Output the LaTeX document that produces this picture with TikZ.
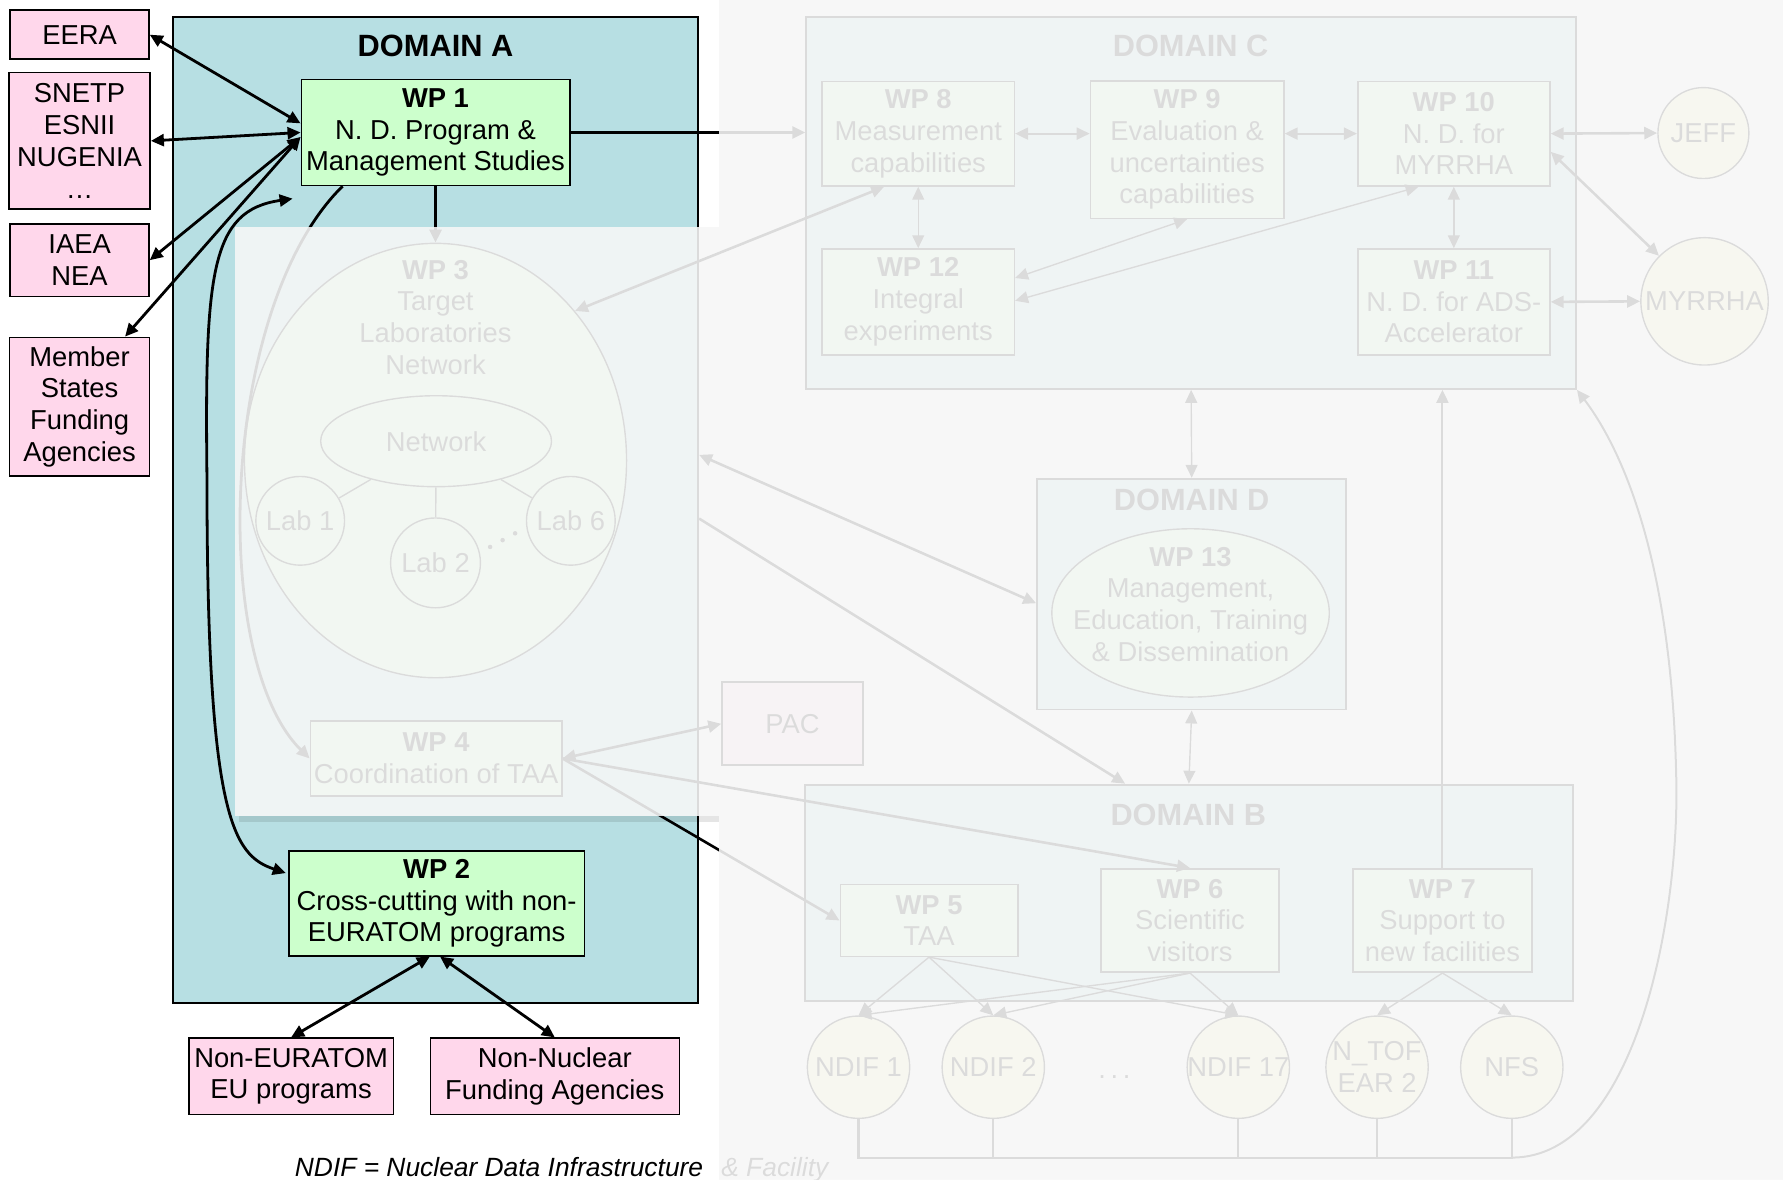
\documentclass[tikz,border=0pt]{standalone}
\usepackage{fontspec}
\setmainfont{Liberation Sans}
\usepackage{tikz}
\usetikzlibrary{positioning,arrows.meta,shapes.geometric,calc}
\definecolor{domainteal}{RGB}{183,223,227}
\definecolor{wpgreen}{RGB}{204,255,204}
\definecolor{partnerpink}{RGB}{255,215,235}
\definecolor{facilityyellow}{RGB}{255,255,190}
\definecolor{veilgray}{RGB}{247,247,247}

\begin{document}
\begin{tikzpicture}[
  x=0.2mm, y=-0.2mm,
  font=\fontsize{13.7}{15.9}\selectfont,
  domainbox/.style={draw, line width=0.9pt, fill=domainteal},
  domaintitle/.style={font=\fontsize{15.4}{18}\selectfont\bfseries},
  wpbox/.style={draw, line width=0.8pt, fill=wpgreen, align=center, inner sep=1pt},
  wpring/.style={ellipse, draw, line width=0.7pt, fill=wpgreen, inner sep=0pt},
  partnerbox/.style={draw, line width=0.8pt, fill=partnerpink, align=center, inner sep=1pt},
  facility/.style={circle, draw, line width=0.7pt, fill=facilityyellow, inner sep=0pt, minimum size=18mm},
  flow/.style={-{Triangle[length=6.5pt,width=6pt]}, line width=1.4pt},
  twoway/.style={{Triangle[length=6.5pt,width=6pt]}-{Triangle[length=6.5pt,width=6pt]}, line width=1.4pt},
  link/.style={-{Triangle[length=6.5pt,width=6pt]}, line width=1.3pt},
  twolink/.style={{Triangle[length=6.5pt,width=6pt]}-{Triangle[length=6.5pt,width=6pt]}, line width=1.3pt},
  fine/.style={line width=0.7pt},
  veil/.style={fill=veilgray, fill opacity=0.89, draw=none}
]
\fill[white] (0,0) rectangle (1568,1037);
\useasboundingbox (0,0) rectangle (1568,1037);

\node[domainbox, minimum width=92.4mm, minimum height=173.4mm] (doma) at (383,448.5) {};
\node[domainbox, minimum width=135.4mm, minimum height=65.4mm] (domc) at (1047.5,178.5) {};
\node[domainbox, minimum width=54.4mm, minimum height=40.6mm] (domd) at (1048,522.5) {};
\node[domainbox, minimum width=135mm, minimum height=38mm] (domb) at (1045.5,785) {};
\node[domaintitle] (titlea) at (383,40) {DOMAIN A};
\node[domaintitle] (titlec) at (1047,40) {DOMAIN C};
\node[domaintitle] (titled) at (1048,440) {DOMAIN D};
\node[domaintitle] (titleb) at (1045,717) {DOMAIN B};

\node[partnerbox, minimum width=24.4mm, minimum height=8.6mm] (eera) at (70,30.5) {EERA};
\node[partnerbox, minimum width=24.8mm, minimum height=24mm, below=2.1mm of eera] (snetp) {SNETP\\ESNII\\NUGENIA\\\dots};
\node[partnerbox, minimum width=24.4mm, minimum height=12.8mm, below=2.3mm of snetp] (iaea) {IAEA\\NEA};
\node[partnerbox, minimum width=24.6mm, minimum height=24.4mm, below=6.9mm of iaea] (member) {Member\\States\\Funding\\Agencies};

\node[wpbox, minimum width=47.2mm, minimum height=18.6mm] (wp1) at (383,116.5) {\textbf{WP 1}\\N. D. Program \&\\Management Studies};
\node[wpring, minimum width=67.2mm, minimum height=76.4mm] (wp3) at (383,405) {};
\node[align=center] (wp3text) at (383,279) {\textbf{WP 3}\\Target\\Laboratories\\Network};
\node[wpring, minimum width=40.6mm, minimum height=16mm] (net) at (383.5,388) {Network};
\node[wpring, minimum width=15.6mm, minimum height=15.6mm, label={center:Lab 1}] (lab1) at (264,458) {};
\node[wpring, minimum width=15.8mm, minimum height=15.8mm, label={center:Lab 2}] (lab2) at (383,495) {};
\node[wpring, minimum width=15.6mm, minimum height=15.6mm, label={center:Lab 6}] (lab6) at (502,458) {};
\node[wpbox, minimum width=44.2mm, minimum height=13.2mm] (wp4) at (383.5,667) {\textbf{WP 4}\\Coordination of TAA};
\node[wpbox, minimum width=52mm, minimum height=18.4mm] (wp2) at (384,794.5) {\textbf{WP 2}\\Cross-cutting with non-\\EURATOM programs};
\node[partnerbox, minimum width=36mm, minimum height=13.4mm] (noneuratom) at (256,946.5) {Non-EURATOM\\EU programs};
\node[partnerbox, minimum width=43.8mm, minimum height=13.4mm, right=6.2mm of noneuratom] (nonnuclear) {Non-Nuclear\\Funding Agencies};
\node[partnerbox, minimum width=24.8mm, minimum height=14.6mm] (pac) at (697,636.5) {PAC};

\node[wpbox, minimum width=33.8mm, minimum height=18.4mm] (wp8) at (807.5,117.5) {\textbf{WP 8}\\Measurement\\capabilities};
\node[wpbox, minimum width=34mm, minimum height=24.2mm] (wp9) at (1044,131.5) {\textbf{WP 9}\\Evaluation \&\\uncertainties\\capabilities};
\node[wpbox, minimum width=33.8mm, minimum height=18.4mm] (wp10) at (1278.5,117.5) {\textbf{WP 10}\\N. D. for\\MYRRHA};
\node[wpbox, minimum width=33.8mm, minimum height=18.6mm] (wp12) at (807.5,265.5) {\textbf{WP 12}\\Integral\\experiments};
\node[wpbox, minimum width=33.8mm, minimum height=18.6mm] (wp11) at (1278.5,265.5) {\textbf{WP 11}\\N. D. for ADS-\\Accelerator};
\node[facility, minimum size=16mm, label={center:JEFF}] (jeff) at (1498,117) {};
\node[facility, minimum size=22.4mm, label={center:MYRRHA}] (myrrha) at (1499,265) {};

\node[wpring, minimum width=48.8mm, minimum height=29.6mm] (wp13) at (1047,539) {};
\node[align=center] (wp13text) at (1047,531.5) {\textbf{WP 13}\\Management,\\Education, Training\\\& Dissemination};

\node[wpbox, minimum width=31.2mm, minimum height=12.6mm] (wp5) at (817,809.5) {\textbf{WP 5}\\TAA};
\node[wpbox, minimum width=31.4mm, minimum height=18.2mm] (wp6) at (1046.5,809.5) {\textbf{WP 6}\\Scientific\\visitors};
\node[wpbox, minimum width=31.4mm, minimum height=18.2mm] (wp7) at (1268.5,809.5) {\textbf{WP 7}\\Support to\\new facilities};
\node[facility, label={center:NDIF 1}] (ndif1) at (755,938.5) {};
\node[facility, label={center:NDIF 2}] (ndif2) at (873.5,938.5) {};
\node (ndifdots) at (980,947) {.\,.\,.};
\node[facility, label={center:NDIF 17}] (ndif17) at (1089,938.5) {};
\node[facility, label={[align=center]center:N\_TOF\\EAR 2}] (ntof) at (1211,938.5) {};
\node[facility, label={center:NFS}] (nfs) at (1329.5,938.5) {};
\node[anchor=base west, inner sep=0pt, font=\fontsize{13.2}{15.9}\selectfont\itshape] (footnote) at (259,1035) {NDIF = Nuclear Data Infrastructure\hspace{3.2mm}\& Facility};

\draw[fine] (net) -- (lab1);
\draw[fine] (net) -- (lab2);
\draw[fine] (net) -- (lab6);
\fill (431,481) circle[radius=2];
\fill (442,475) circle[radius=2];
\fill (453,469) circle[radius=2];

\draw[twoway] (eera.east) -- ($(wp1.west)+(0,-8)$);
\draw[twoway] (snetp.east) -- (wp1.west);
\draw[twoway] (iaea.east) -- ($(wp1.west)+(0,4)$);
\draw[twoway] ($(member.north)+(40,0)$) -- ($(wp1.west)+(0,4)$);
\draw[flow] (wp1.south) -- (wp3.north);
\draw[flow] ($(wp1.south west)+(37,0)$) .. controls (193,270) and (184,580) .. (wp4.west);
\draw[twoway] ($(wp1.south west)+(-7,11)$) .. controls (185,185) and (180,240) .. (182,420) .. controls (182,720) and (205,752) .. ($(wp2.north west)+(-2,20)$);
\draw[twoway] ($(wp2.south)+(-6,0)$) -- (noneuratom.north);
\draw[twoway] ($(wp2.south)+(3,0)$) -- (nonnuclear.north);
\draw[flow] (wp1.east) -- (domc.west |- wp1.east);

\draw[twolink] (wp3.47) -- ($(wp8.south)+(-30,0)$);
\draw[twolink] ($(doma.east)+(0,-48.5)$) -- ($(domd.west)+(0,8)$);
\draw[link] ($(doma.east)+(0,7.5)$) -- ($(domb.north)+(-56,0)$);
\draw[twolink] (wp4.east) -- (pac.west);
\draw[link] (wp4.east) -- (wp6.north);
\draw[link] (wp4.east) -- (wp5.west);

\draw[twolink, line width=1pt] (wp8.east) -- ($(wp9.west)+(0,-14)$);
\draw[twolink, line width=1pt] ($(wp9.east)+(0,-14)$) -- (wp10.west);
\draw[twolink, fine] (wp8.south) -- (wp12.north);
\draw[twolink, fine] (wp10.south) -- (wp11.north);
\draw[twolink, fine] ($(wp12.east)+(0,-21)$) -- (wp9.south);
\draw[twolink, fine] ($(wp12.east)+(0,-1)$) -- ($(wp10.south)+(-31,0)$);
\draw[twolink] (wp10.east) -- (jeff.west);
\draw[twolink] (wp11.east) -- (myrrha.west);
\draw[twolink] ($(wp10.east)+(0,16)$) -- (myrrha.135);
\draw[twolink, fine] (domc.south) -- (domd.north);
\draw[twolink, fine] (domd.south) -- (domb.north);
\draw[link, line width=1pt] (wp7.north) -- (wp7.north |- domc.south);

\draw[link, fine] (wp5.south) -- (ndif1.north);
\draw[link, fine] (wp5.south) -- (ndif2.north);
\draw[link, fine] (wp5.south) -- (ndif17.north);
\draw[link, fine] (wp6.south) -- (ndif1.north);
\draw[link, fine] (wp6.south) -- (ndif2.north);
\draw[link, fine] (wp6.south) -- (ndif17.north);
\draw[link, fine] (wp7.south) -- (ntof.north);
\draw[link, fine] (wp7.south) -- (nfs.north);

\coordinate (busy) at (0,1018);
\coordinate (bus) at (nfs.south |- busy);
\draw[line width=1.1pt] (ndif1.south) -- (ndif1.south |- busy) -- (bus) -- (nfs.south);
\draw[line width=1.1pt] (ndif2.south) -- (ndif2.south |- busy);
\draw[line width=1.1pt] (ndif17.south) -- (ndif17.south |- busy);
\draw[line width=1.1pt] (ntof.south) -- (ntof.south |- busy);
\draw[link, line width=1pt] (bus) .. controls (1440,1018) and (1478,800) .. (1474,680) .. controls (1470,500) and (1430,400) .. (domc.south east);

\fill[black, opacity=0.1] (210,718) rectangle (632,723);
\fill[veil] (207,200) rectangle (632,718);
\fill[veil] (632,-10) rectangle (1578,1050);
\end{tikzpicture}
\end{document}
